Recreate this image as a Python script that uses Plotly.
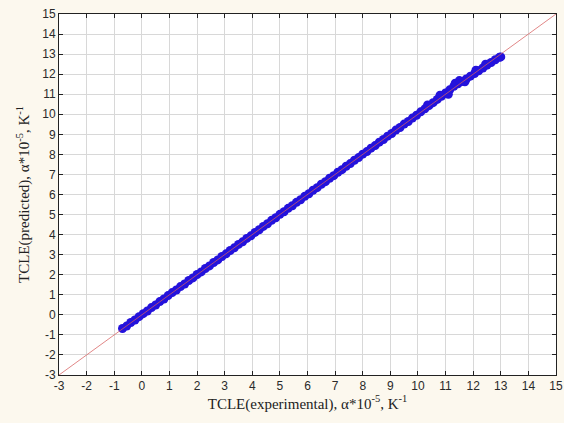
import plotly.graph_objects as go

# Thermal coefficient of linear expansion: experimental vs predicted (α*10^-5, K^-1)
tcle_experimental = [
    -0.70, -0.55, -0.40, -0.25, -0.10, 0.05, 0.20, 0.35, 0.50, 0.65,
    0.80, 0.95, 1.10, 1.25, 1.40, 1.55, 1.70, 1.85, 2.00, 2.15,
    2.30, 2.45, 2.60, 2.75, 2.90, 3.05, 3.20, 3.35, 3.50, 3.65,
    3.80, 3.95, 4.10, 4.25, 4.40, 4.55, 4.70, 4.85, 5.00, 5.15,
    5.30, 5.45, 5.60, 5.75, 5.90, 6.05, 6.20, 6.35, 6.50, 6.65,
    6.80, 6.95, 7.10, 7.25, 7.40, 7.55, 7.70, 7.85, 8.00, 8.15,
    8.30, 8.45, 8.60, 8.75, 8.90, 9.05, 9.20, 9.35, 9.50, 9.65,
    9.80, 9.95, 10.10, 10.25, 10.40, 10.55, 10.70, 10.85, 11.00, 11.15,
    11.30, 11.45, 11.60, 11.75, 11.90, 12.05, 12.20, 12.35, 12.50, 12.65,
    12.80, 12.95, 13.00,
    # scattered points around the upper part of the range
    10.35, 10.80, 11.10, 11.35, 11.50, 11.70, 12.10, 12.45,
]
tcle_predicted = [
    -0.68, -0.56, -0.38, -0.26, -0.09, 0.06, 0.19, 0.36, 0.49, 0.66,
    0.79, 0.96, 1.11, 1.24, 1.41, 1.54, 1.71, 1.84, 2.01, 2.14,
    2.31, 2.44, 2.61, 2.74, 2.91, 3.04, 3.21, 3.34, 3.51, 3.64,
    3.81, 3.94, 4.11, 4.24, 4.41, 4.54, 4.71, 4.84, 5.01, 5.14,
    5.31, 5.44, 5.61, 5.74, 5.91, 6.04, 6.21, 6.34, 6.51, 6.64,
    6.81, 6.94, 7.11, 7.24, 7.41, 7.54, 7.71, 7.84, 8.01, 8.14,
    8.31, 8.44, 8.61, 8.74, 8.91, 9.04, 9.21, 9.34, 9.51, 9.64,
    9.81, 9.95, 10.12, 10.27, 10.43, 10.58, 10.74, 10.90, 11.06, 11.22,
    11.40, 11.52, 11.64, 11.76, 11.90, 12.03, 12.17, 12.31, 12.45, 12.58,
    12.72, 12.84, 12.86,
    10.46, 10.95, 11.00, 11.55, 11.68, 11.62, 12.20, 12.50,
]

# Ideal agreement line y = x across the full axis range
ideal_line = [-3, 15]

axis_ticks = list(range(-3, 16))

fig = go.Figure()

fig.add_trace(go.Scatter(
    x=tcle_experimental, y=tcle_predicted,
    mode="markers",
    marker=dict(size=9, color="#2412dc", line=dict(width=0)),
    hoverinfo="skip", showlegend=False,
))

fig.add_trace(go.Scatter(
    x=ideal_line, y=ideal_line,
    mode="lines",
    line=dict(color="rgba(215,95,95,0.75)", width=1),
    hoverinfo="skip", showlegend=False,
))

tick_font = dict(family="Liberation Sans, Arial, sans-serif", size=12, color="#2a2a2a")
title_font = dict(family="Liberation Serif, Times New Roman, serif", size=15, color="#222222")

axis_common = dict(
    range=[-3, 15],
    tickmode="array",
    tickvals=axis_ticks,
    ticktext=[str(v) for v in axis_ticks],
    showgrid=True,
    gridcolor="#d8d8d8",
    gridwidth=1,
    zeroline=False,
    showline=True,
    linecolor="#222222",
    linewidth=1,
    mirror="ticks",
    ticks="inside",
    ticklen=4,
    tickcolor="#222222",
    tickfont=tick_font,
    ticklabeloverflow="allow",
    automargin=False,
)

fig.update_xaxes(
    **axis_common,
    title=dict(text="TCLE(experimental), α*10<sup>-5</sup>, K<sup>-1</sup>",
               font=title_font, standoff=4),
)
fig.update_yaxes(
    **axis_common,
    title=dict(text="TCLE(predicted), α*10<sup>-5</sup>, K<sup>-1</sup>",
               font=title_font, standoff=8),
)

fig.update_layout(
    width=564, height=423,
    margin=dict(l=59, r=8, t=14, b=48),
    paper_bgcolor="#fcf8ee",
    plot_bgcolor="#ffffff",
)

fig.write_html("out.html")
